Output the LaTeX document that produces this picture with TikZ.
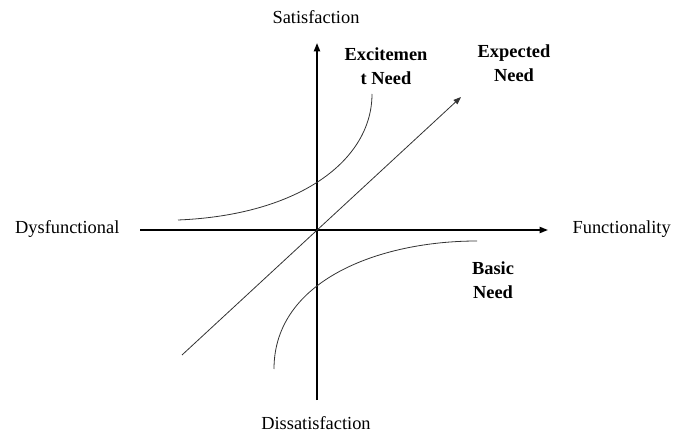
\documentclass[tikz,border=0pt]{standalone}
\usepackage{fontspec}
\setmainfont{Liberation Serif}
\usetikzlibrary{arrows.meta, positioning}
\definecolor{kaxis}{HTML}{000000}
\definecolor{kcurve}{HTML}{333333}
\tikzset{
  axis/.style={-{Triangle[length=2.2mm, width=1.6mm]}, draw=kaxis, line width=1.3pt},
  curve/.style={draw=kcurve, line width=0.6pt},
  trend/.style={-{Triangle[length=2mm, width=1.5mm]}, draw=kcurve, line width=0.6pt},
  axlbl/.style={font=\fontsize{13.8}{16}\selectfont, inner sep=1pt},
  needlbl/.style={font=\fontsize{13.8}{18}\selectfont\bfseries, align=center, inner sep=1pt},
}
\begin{document}
\begin{tikzpicture}[x=0.75pt,y=-0.75pt]
    \useasboundingbox (0,0) rectangle (685,434);
    % axes
    \coordinate (origin) at (317,230);
    \coordinate (yneg)   at (317,400);
    \coordinate (ypos)   at (317,43);
    \coordinate (xneg)   at (140,230);
    \coordinate (xpos)   at (548,230);
    \node[axlbl] (sat)    at (316,17)  {Satisfaction};
    \node[axlbl] (dissat) at (316,423) {Dissatisfaction};
    \node[axlbl, anchor=east] (dysf) at (121,229) {Dysfunctional};
    \node[axlbl, anchor=west] (func) at (571,229) {Functionality};
    \draw[axis] (yneg) -- (ypos);
    \draw[axis] (xneg) -- (xpos);
    % need curves
    \coordinate (expA) at (182,355);
    \coordinate (expB) at (461,97);
    \coordinate (excA) at (178,220);
    \coordinate (excB) at (372,94);
    \coordinate (basA) at (274,369);
    \coordinate (basB) at (477,241);
    \draw[trend] (expA) -- (expB);
    \draw[curve] (excA) .. controls (300,215) and (372,160) .. (excB);
    \draw[curve] (basA) .. controls (274,280) and (380,241) .. (basB);
    \node[needlbl] (excite)   at (386,66)  {Excitemen\\t Need};
    \node[needlbl] (expected) at (514,63)  {Expected\\Need};
    \node[needlbl] (basic)    at (493,280) {Basic\\Need};
\end{tikzpicture}
\end{document}
